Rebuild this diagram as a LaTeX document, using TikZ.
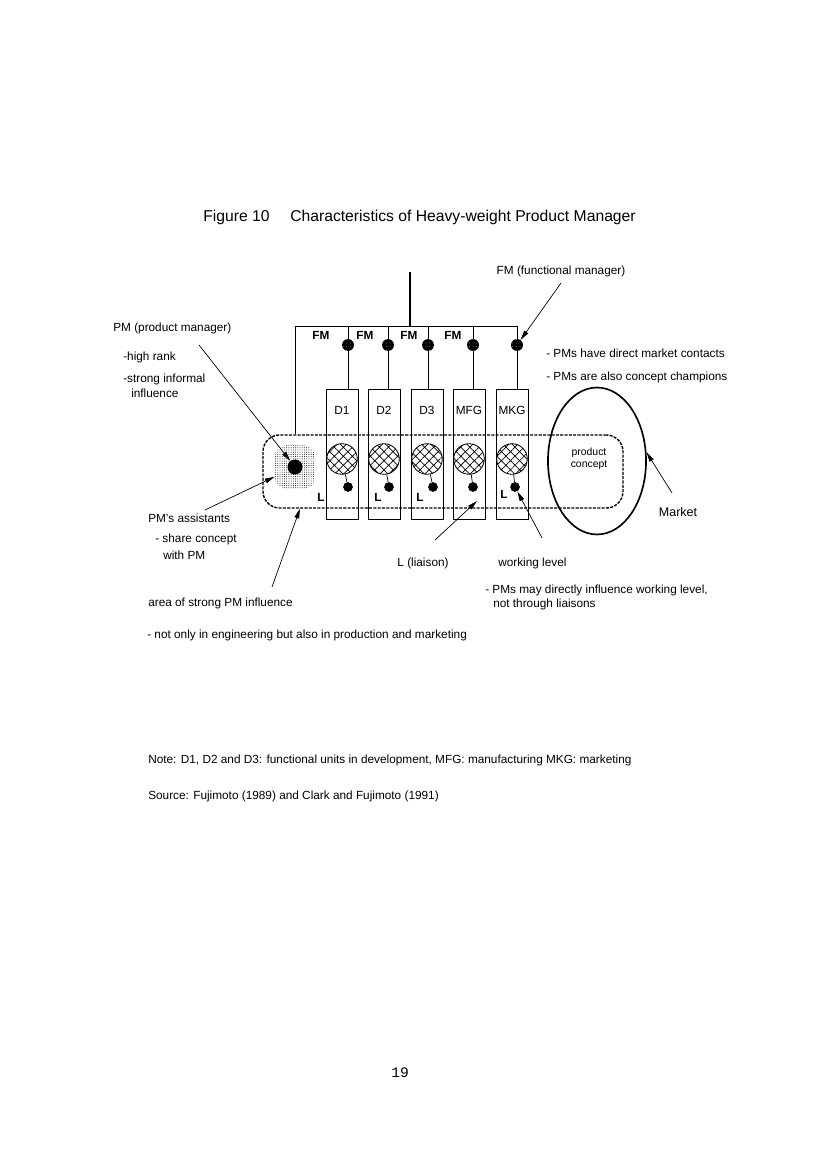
\documentclass[tikz,border=0pt]{standalone}
\usepackage{fontspec}
\setmainfont{Liberation Sans}
\newfontfamily\pagenofont{Liberation Mono}
\usetikzlibrary{arrows.meta,positioning,shapes.geometric,patterns.meta,calc}
\tikzset{
  unitbox/.style={draw, line width=0.6pt, minimum width=23pt, minimum height=93.6pt, anchor=north, inner sep=0pt},
  fmdot/.style={circle, fill=black, minimum size=8.6pt, inner sep=0pt,
    postaction={pattern={Dots[distance=2.6pt,radius=0.25pt]}, pattern color=white}},
  hatchdot/.style={circle, draw, line width=0.6pt, minimum size=22pt, inner sep=0pt,
    pattern={Hatch[angle=45,distance=4.6pt,line width=0.5pt]}},
  ldot/.style={circle, fill=black, minimum size=7pt, inner sep=0pt},
  txt/.style={font=\fontsize{8.5}{10}\selectfont, inner sep=0pt, anchor=west},
  tag/.style={font=\fontsize{8.5}{10}\selectfont\bfseries, inner sep=0pt},
  pointer/.style={-{Triangle[length=7pt,width=3.4pt]}, line width=0.5pt},
  zone/.style={draw, line width=1pt, dash pattern=on 2.2pt off 0.9pt, rounded corners=12pt,
    minimum width=259.2pt, minimum height=52.6pt, inner sep=0pt},
}

\begin{document}
\begin{tikzpicture}[x=0.72pt,y=-0.72pt]
\useasboundingbox (0,0) rectangle (827,1170);
\fill[white] (0,0) rectangle (827,1170);

% title
\node[font=\fontsize{11.3}{13}\selectfont, anchor=west, inner sep=0pt] (fignum) at (203,217) {Figure 10};
\node[font=\fontsize{11.3}{13}\selectfont, anchor=west, inner sep=0pt] (title) at (290,217) {Characteristics of Heavy-weight Product Manager};

% area of strong PM influence
\node[zone] (zone) at (443,471.5) {};

% functional units
\foreach \nm/\lab/\bx/\fx/\lx in {d1/D1/342/348/348, d2/D2/384/388/389, d3/D3/427/428/433, mfg/MFG/469/473/473, mkg/MKG/512/517/515}{
  \node[unitbox] (box\nm) at (\bx,389) {};
  \node[txt, anchor=center] (lab\nm) at (\bx,410) {\lab};
  \node[fmdot] (fm\nm) at (\fx,345) {};
  \node[hatchdot] (hc\nm) at (\bx,459) {};
  \node[ldot] (wl\nm) at (\lx,487) {};
  \coordinate (bar\nm) at (\fx,326);
  \draw[line width=0.6pt] (bar\nm) -- (fm\nm);
  \draw[line width=0.6pt] (fm\nm) -- (fm\nm |- box\nm.north);
  \draw[line width=0.5pt] (hc\nm) -- (wl\nm);
}

% hierarchy lines
\coordinate (top) at (410,272);
\coordinate (barleft) at (295,326);
\draw[line width=0.9pt] (top) -- (top |- barleft);
\draw[line width=0.6pt] (barleft) -- (barmkg);
\draw[line width=0.6pt] (barleft) -- (barleft |- zone.north);

\foreach \i/\x in {1/321, 2/365, 3/409, 4/453}
  \node[tag] (fmlab\i) at (\x,335) {FM};
\foreach \i/\x/\y in {1/321/497, 2/378/497, 3/420/497, 4/504/494}
  \node[tag] (llab\i) at (\x,\y) {L};

% product manager and assistants
\node[rounded corners=8pt, minimum width=29pt, minimum height=31pt, inner sep=0pt,
  pattern={Dots[distance=1.6pt,radius=0.35pt]}] (assist) at (295,467) {};
\node[circle, fill=black, minimum size=10.8pt, inner sep=0pt] (pm) at (295,467) {};

% market
\node[ellipse, draw, line width=1.2pt, minimum width=70.6pt, minimum height=105.8pt, inner sep=0pt] (market) at (597,461) {};
\node[txt, anchor=center, align=center, font=\fontsize{7.5}{9}\selectfont] (concept) at (589,459) {product\\concept};

% labels
\node[txt] (pmlab) at (113,328) {PM (product manager)};
\node[txt] (pmrank) at (123,357) {-high rank};
\node[txt] (pminf) at (123,379) {-strong informal};
\node[txt] (pminf2) at (131,393) {influence};
\node[txt] (asslab) at (148,518) {PM's assistants};
\node[txt] (assshare) at (155,539) {- share concept};
\node[txt] (asswith) at (163,555) {with PM};
\node[txt] (arealab) at (148,603) {area of strong PM influence};
\node[txt] (areanote) at (147,635) {- not only in engineering but also in production and marketing};
\node[txt, anchor=center] (lialab) at (423,563) {L (liaison)};
\node[txt] (wllab) at (498,563) {working level};
\node[txt] (wlnote) at (485,590) {- PMs may directly influence working level,};
\node[txt] (wlnote2) at (493,604) {not through liaisons};
\node[txt, anchor=center] (fmlab) at (561,271) {FM (functional manager)};
\node[txt] (mktnote) at (546,353) {- PMs have direct market contacts};
\node[txt] (mktnote2) at (546,377) {- PMs are also concept champions};
\node[txt, anchor=center, font=\fontsize{9}{10}\selectfont] (mktlab) at (678,512) {Market};

% pointers
\coordinate (pmtail) at (199,345);
\coordinate (fmtail) at (561,283);
\coordinate (asstail) at (205,510);
\coordinate (areatail) at (272,587);
\coordinate (liatail) at (435,540);
\coordinate (liatip) at (477,501);
\coordinate (wltail) at (542,538);
\coordinate (mkttail) at (672,493);
\draw[pointer] (pmtail) -- (pm);
\draw[pointer] (fmtail) -- (fmmkg);
\draw[pointer] (asstail) -- (assist);
\draw[pointer] (areatail) -- ([xshift=3.6pt]zone.south -| pm);
\draw[pointer] (liatail) -- (liatip);
\draw[pointer] (wltail) -- (wlmkg);
\draw[pointer] (mkttail) -- (market.10);

% note and source
\node[txt] (note) at (148,760) {Note: D1, D2 and D3: functional units in development, MFG: manufacturing MKG: marketing};
\node[txt] (source) at (148,796) {Source: Fujimoto (1989) and Clark and Fujimoto (1991)};

\node[font=\pagenofont\fontsize{10.5}{12}\selectfont, inner sep=0pt] (pageno) at (400,1073) {19};
\end{tikzpicture}
\end{document}
